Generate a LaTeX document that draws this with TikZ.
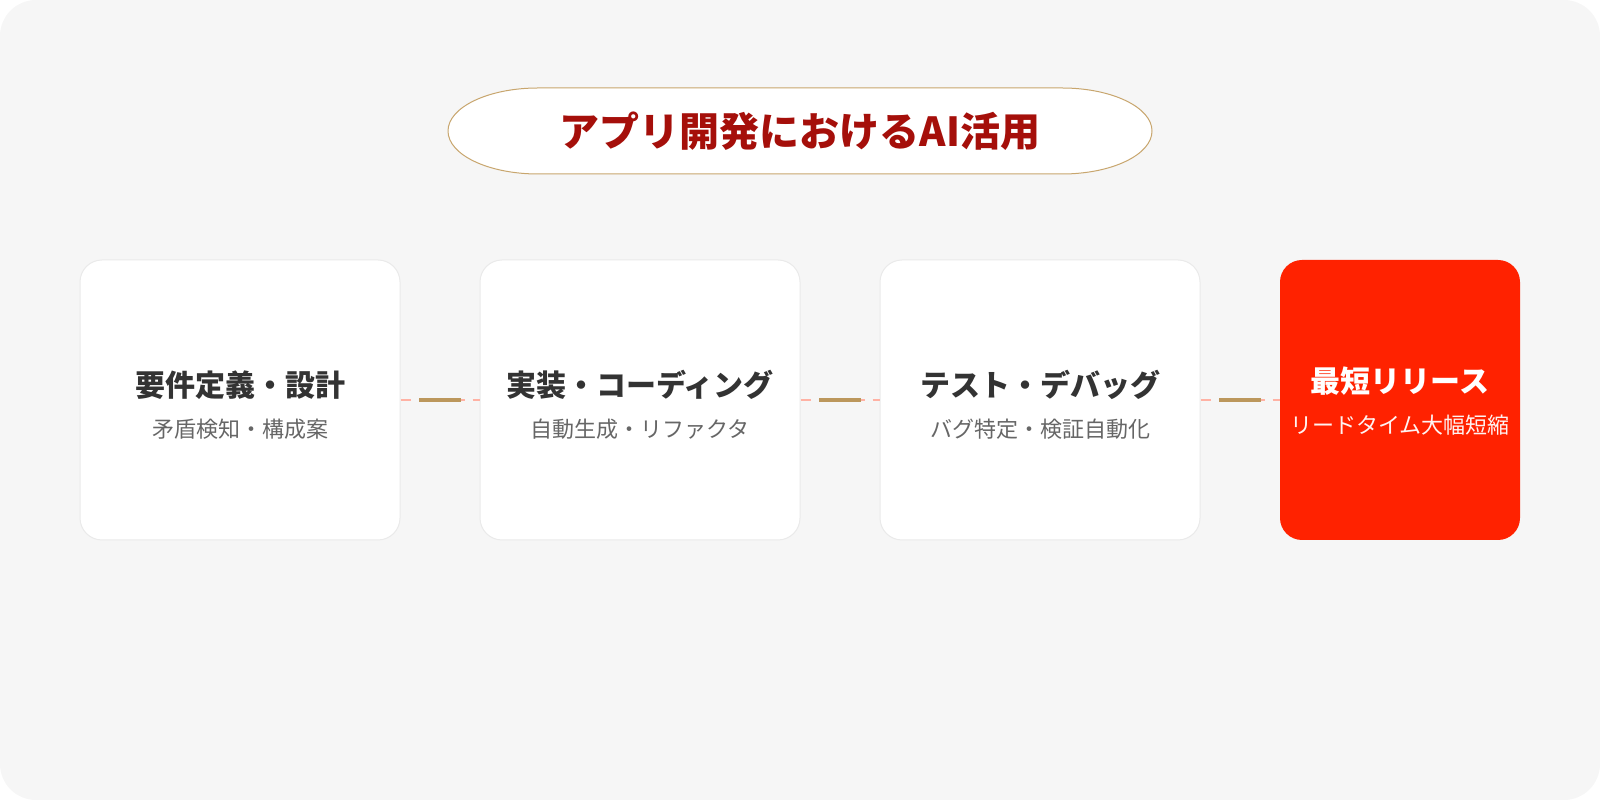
\documentclass[tikz,border=0pt]{standalone}
\usepackage{fontspec}
\setmainfont{Noto Sans CJK JP}
\usetikzlibrary{calc}
\definecolor{bgc}{HTML}{F6F6F6}
\definecolor{boxline}{HTML}{EAEAEA}
\definecolor{ttlred}{HTML}{A50F0A}
\definecolor{hotred}{HTML}{FF2200}
\definecolor{goldc}{HTML}{BC975C}
\definecolor{goldline}{HTML}{C8A66E}
\definecolor{salmon}{HTML}{FFB2A4}
\definecolor{darktxt}{HTML}{333333}
\definecolor{graytxt}{HTML}{666666}
\tikzset{
  x=1pt, y=1pt,
  stepbox/.style={draw=boxline, line width=1pt, fill=white, rounded corners=22pt,
    minimum width=320pt, minimum height=280pt, inner sep=0pt},
  finalbox/.style={fill=hotred, rounded corners=22pt,
    minimum width=240pt, minimum height=280pt, inner sep=0pt},
  steptitle/.style={font=\fontsize{30}{35}\selectfont\bfseries, text=darktxt, inner sep=0pt},
  stepsub/.style={font=\fontsize{22}{27}\selectfont, text=graytxt, inner sep=0pt},
  salmonline/.style={draw=salmon, line width=2pt, dash pattern=on 10pt off 8pt},
  goldseg/.style={draw=goldc, line width=4pt},
}
\begin{document}
\begin{tikzpicture}
\useasboundingbox (0,0) rectangle (1600,800);
\fill[bgc, rounded corners=36pt] (0,0) rectangle (1600,800);

% title pill
\filldraw[fill=white, draw=goldline, line width=1pt]
  (538,712) -- (1062,712)
  arc[start angle=90, end angle=-90, x radius=90pt, y radius=43pt]
  -- (538,626)
  arc[start angle=270, end angle=90, x radius=90pt, y radius=43pt] -- cycle;
\node[font=\fontsize{40}{46}\selectfont\bfseries, text=ttlred, inner sep=0pt] (title) at (800,669) {アプリ開発におけるAI活用};

% boxes
\node[stepbox] (b1) at (240,400) {};
\node[stepbox] (b2) at (640,400) {};
\node[stepbox] (b3) at (1040,400) {};
\node[finalbox] (b4) at (1400,400) {};

\node[steptitle] (t1) at (240,415) {要件定義・設計};
\node[stepsub] (s1) at (240,371) {矛盾検知・構成案};
\node[steptitle] (t2) at (640,415) {実装・コーディング};
\node[stepsub] (s2) at (640,371) {自動生成・リファクタ};
\node[steptitle] (t3) at (1040,415) {テスト・デバッグ};
\node[stepsub] (s3) at (1040,371) {バグ特定・検証自動化};
\node[steptitle, text=white] (t4) at (1400,419) {最短リリース};
\node[stepsub, text=white, opacity=0.95] (s4) at (1400,375) {リードタイム大幅短縮};

% connectors
\foreach \a/\b/\n in {b1/b2/c1, b2/b3/c2, b3/b4/c3}{
  \draw[salmonline] (\a.east) -- (\b.west);
  \coordinate (\n) at ($(\a.east)!0.5!(\b.west)$);
  \draw[goldseg] ([xshift=-21pt]\n) -- ([xshift=21pt]\n);
}
\end{tikzpicture}
\end{document}
